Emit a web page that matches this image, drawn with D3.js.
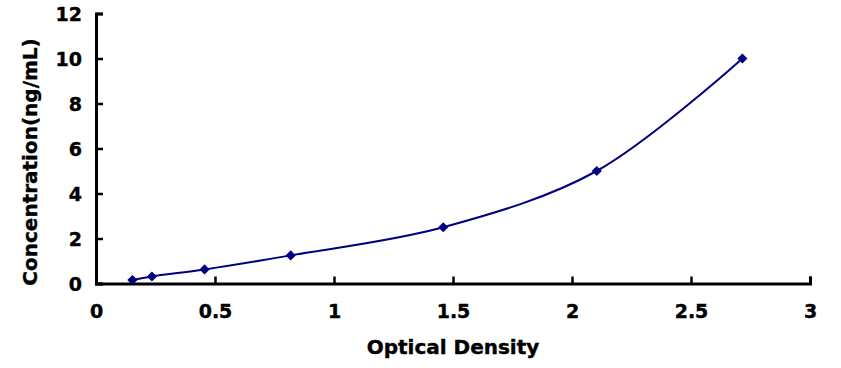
<!DOCTYPE html>
<html>
<head>
<meta charset="utf-8">
<script src="https://cdn.jsdelivr.net/npm/d3@7"></script>
<style>
  body { margin: 0; background: #fff; }
  text { font-family: "DejaVu Sans", sans-serif; font-weight: bold; fill: #000; stroke: #000; stroke-width: 0.4px; }
</style>
</head>
<body>
<svg id="chart" width="841" height="368"></svg>
<script>
// standard curve data
const od = [0.153, 0.235, 0.456, 0.818, 1.459, 2.104, 2.716]
const conc = [0.156, 0.312, 0.625, 1.25, 2.5, 5, 10]
const x_ticks = [0, 0.5, 1, 1.5, 2, 2.5, 3]
const y_ticks = [0, 2, 4, 6, 8, 10, 12]

const svg = d3.select("#chart")
const plot_left = 96, plot_right = 810, plot_top = 13.5, plot_bottom = 283.5

const x = d3.scaleLinear().domain([0, 3]).range([plot_left, plot_right])
const y = d3.scaleLinear().domain([0, 12]).range([plot_bottom, plot_top])

// axes (ticks point inward)
const xAxis = d3.axisBottom(x).tickValues(x_ticks).tickSize(-7).tickPadding(0).tickFormat(d3.format("~g"))
const yAxis = d3.axisLeft(y).tickValues(y_ticks).tickSize(-7).tickFormat(d3.format("~g"))

const gx = svg.append("g").attr("transform", `translate(0,${plot_bottom})`).call(xAxis)
const gy = svg.append("g").attr("transform", `translate(${plot_left},0)`).call(yAxis)

for (const g of [gx, gy]) {
    g.attr("font-family", null).attr("font-size", null)
    g.select(".domain").attr("stroke", "#000").attr("stroke-width", 3)
    g.selectAll(".tick line").attr("stroke", "#000").attr("stroke-width", 2.5)
    g.selectAll(".tick text").attr("font-size", "19px")
}
gx.selectAll(".tick text").attr("y", 34).attr("dy", null)
gy.selectAll(".tick text").attr("x", -14).attr("dy", "0.36em")

// curve
const pts = od.map((d, i) => [x(d), y(conc[i])])
svg.append("path")
    .attr("d", d3.line().curve(d3.curveCatmullRom.alpha(0.5))(pts))
    .attr("fill", "none")
    .attr("stroke", "#000080")
    .attr("stroke-width", 2)

svg.selectAll(".pt").data(pts).enter().append("path")
    .attr("class", "pt")
    .attr("transform", d => `translate(${d[0]},${d[1]}) rotate(45)`)
    .attr("d", "M-3.6,-3.6H3.6V3.6H-3.6Z")
    .attr("fill", "#000080")

// titles
svg.append("text").text("Optical Density")
    .attr("x", (plot_left + plot_right) / 2).attr("y", 354)
    .attr("text-anchor", "middle").attr("font-size", "20px")

svg.append("text").text("Concentration(ng/mL)")
    .attr("transform", `translate(37,162) rotate(-90)`)
    .attr("text-anchor", "middle").attr("font-size", "20px")
</script>
</body>
</html>
